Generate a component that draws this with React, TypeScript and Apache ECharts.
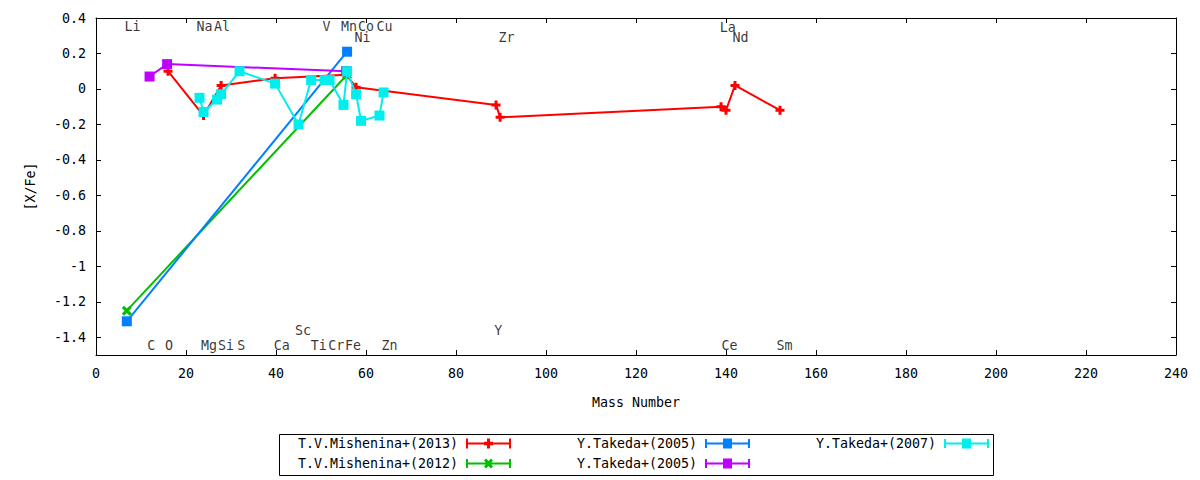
import React, { useEffect, useRef } from "react";
import * as echarts from "echarts";

const FONT = "DejaVu Sans Mono";
const FS = 13.3;

// Series data: [mass number, [X/Fe]]
const MISHENINA_2013: number[][] = [
  [16, 0.1], [23.9, -0.15], [27.8, 0.02], [39.8, 0.06], [55.6, 0.08], [57.8, 0.01],
  [88.9, -0.09], [89.8, -0.16], [138.9, -0.1], [140, -0.12], [142, 0.02], [152, -0.12],
];
const MISHENINA_2012: number[][] = [[6.85, -1.25], [55.8, 0.08]];
const TAKEDA_2005A: number[][] = [[6.85, -1.31], [55.8, 0.21]];
const TAKEDA_2005B: number[][] = [[11.9, 0.07], [15.8, 0.14], [55.6, 0.1]];
const TAKEDA_2007: number[][] = [
  [23, -0.05], [23.9, -0.13], [26.9, -0.06], [27.8, -0.03], [31.9, 0.1], [39.8, 0.03],
  [45, -0.2], [47.8, 0.05], [50.8, 0.05], [51.9, 0.05], [55, -0.09], [55.8, 0.1],
  [57.8, -0.03], [58.9, -0.18], [63, -0.15], [63.9, -0.02],
];

const SERIES_NAMES = [
  "T.V.Mishenina+(2013)",
  "T.V.Mishenina+(2012)",
  "Y.Takeda+(2005)",
  "Y.Takeda+(2005) b",
  "Y.Takeda+(2007)",
];
const SERIES_COLORS = ["#ff0000", "#00c000", "#0080ff", "#c000ff", "#00eeee"];

// Element labels
const ELEMENT_NAMES = [
  "Li", "Na", "Al", "V", "Mn", "Co", "Cu", "Ni", "Zr", "La", "Nd",
  "C", "O", "Mg", "Si", "S", "Ca", "Ti", "Cr", "Fe", "Zn", "Ce", "Sm", "Sc", "Y",
];
const ELEMENT_X = [
  8.1, 24.1, 28.0, 51.2, 56.2, 60.0, 64.1, 59.2, 91.2, 140.4, 143.2,
  12.3, 16.2, 25.1, 28.9, 32.3, 41.3, 49.5, 53.4, 57.1, 65.2, 140.8, 153.0, 46.0, 89.4,
];
const ELEMENT_Y = [
  0.352, 0.352, 0.352, 0.352, 0.352, 0.352, 0.352, 0.29, 0.29, 0.347, 0.29,
  -1.446, -1.446, -1.446, -1.446, -1.446, -1.446, -1.446, -1.446, -1.446, -1.446, -1.446, -1.446, -1.361, -1.361,
];

const Y_TICKS = [-1.4, -1.2, -1, -0.8, -0.6, -0.4, -0.2, 0, 0.2, 0.4];

const CAPS_LINE = "M0,0.5h2v9h-2z M0,4h45v2h-45z M43,0.5h2v9h-2z";
const ICON_PLUS = "path://" + CAPS_LINE + " M21,0.5h3v9h-3z M18,3.5h9v3h-9z";
const ICON_CROSS =
  "path://" + CAPS_LINE + " M0,0h0.01v0.01z M45,10h-0.01v-0.01z" +
  " M18,2L20,0L22.5,2.5L25,0L27,2L24.5,5L27,8L25,10L22.5,7.5L20,10L18,8L20.5,5Z";
const ICON_SQUARE = "path://" + CAPS_LINE + " M18,0h9v10h-9z";
const LEGEND_ICONS = [ICON_PLUS, ICON_CROSS, ICON_SQUARE, ICON_SQUARE, ICON_SQUARE];

const SYM_PLUS = "path://M3,0h3v3h3v3h-3v3h-3v-3h-3v-3h3z";
const SYM_CROSS =
  "path://M0,2L2,0L4.5,2.5L7,0L9,2L6.5,4.5L9,7L7,9L4.5,6.5L2,9L0,7L2.5,4.5Z";
const SERIES_SYMBOLS = [SYM_PLUS, SYM_CROSS, "rect", "rect", "rect"];
const SERIES_SYMBOL_SIZES = [9, 10, 10, 10, 10];

const LEGEND_RIGHT = [689, 689, 450, 450, 211];
const LEGEND_TOP = [437, 457, 437, 457, 437];

export default function App() {
  const ref = useRef<HTMLDivElement>(null);

  useEffect(() => {
    if (!ref.current) return;
    const chart = echarts.init(ref.current, null, { renderer: "svg" });
    const datasets = [MISHENINA_2013, MISHENINA_2012, TAKEDA_2005A, TAKEDA_2005B, TAKEDA_2007];

    const axisLine = { show: true, onZero: false, lineStyle: { color: "#000", width: 1 } };
    const tick = { show: true, inside: true, length: 5, lineStyle: { color: "#000", width: 1 } };
    const labelStyle = { fontFamily: FONT, fontSize: FS, color: "#000" };

    const lineSeries = datasets.map((d, i) => ({
      name: SERIES_NAMES[i],
      type: "line",
      data: d,
      xAxisIndex: 0,
      yAxisIndex: 0,
      symbol: SERIES_SYMBOLS[i],
      symbolSize: SERIES_SYMBOL_SIZES[i],
      showSymbol: true,
      showAllSymbol: true,
      color: SERIES_COLORS[i],
      lineStyle: { color: SERIES_COLORS[i], width: 2 },
      itemStyle: { color: SERIES_COLORS[i], borderWidth: 0 },
      emphasis: { disabled: true },
      z: 3 + i,
    }));

    const labelSeries = {
      name: "elements",
      type: "scatter",
      silent: true,
      symbolSize: 1,
      itemStyle: { color: "rgba(0,0,0,0)" },
      data: ELEMENT_NAMES.map((n, i) => ({ name: n, value: [ELEMENT_X[i], ELEMENT_Y[i]] })),
      label: {
        show: true,
        position: "inside",
        formatter: "{b}",
        fontFamily: FONT,
        fontSize: FS,
        color: "#000",
      },
      z: 2,
    };

    const legends = SERIES_NAMES.map((n, i) => ({
      data: [{ name: n, icon: LEGEND_ICONS[i] }],
      right: LEGEND_RIGHT[i],
      top: LEGEND_TOP[i],
      align: "right",
      orient: "horizontal",
      padding: 0,
      itemWidth: 45,
      itemHeight: 10,
      symbolKeepAspect: false,
      selectedMode: false,
      formatter: (name: string) => name.replace(/ b$/, ""),
      textStyle: { fontFamily: FONT, fontSize: FS, color: "#000", padding: [0, 3, 0, 0] },
    }));

    chart.setOption({
      animation: false,
      backgroundColor: "#fff",
      grid: { left: 96, top: 18, width: 1080, height: 337, containLabel: false },
      legend: legends,
      xAxis: [
        {
          type: "value",
          position: "bottom",
          min: 0,
          max: 240,
          interval: 20,
          name: "Mass Number",
          nameLocation: "middle",
          nameGap: 41,
          nameTextStyle: { fontFamily: FONT, fontSize: FS, color: "#000" },
          axisLine,
          axisTick: tick,
          axisLabel: { ...labelStyle, margin: 12 },
          splitLine: { show: false },
        },
        {
          type: "value",
          position: "top",
          min: 0,
          max: 240,
          interval: 20,
          axisLine,
          axisTick: tick,
          axisLabel: { show: false },
          splitLine: { show: false },
        },
      ],
      yAxis: [
        {
          type: "value",
          position: "left",
          min: -1.5,
          max: 0.4,
          name: "[X/Fe]",
          nameLocation: "middle",
          nameGap: 59,
          nameRotate: 90,
          nameTextStyle: { fontFamily: FONT, fontSize: FS, color: "#000" },
          axisLine,
          axisTick: { ...tick, customValues: Y_TICKS },
          axisLabel: {
            ...labelStyle,
            margin: 10,
            customValues: Y_TICKS,
            formatter: (v: number) => String(Math.round(v * 10) / 10),
          },
          splitLine: { show: false },
        },
        {
          type: "value",
          position: "right",
          min: -1.5,
          max: 0.4,
          axisLine,
          axisTick: { ...tick, customValues: Y_TICKS },
          axisLabel: { show: false, customValues: Y_TICKS },
          splitLine: { show: false },
        },
      ],
      graphic: [
        {
          type: "rect",
          shape: { x: 279.5, y: 434.5, width: 714, height: 41 },
          style: { fill: "none", stroke: "#000", lineWidth: 1 },
          silent: true,
        },
      ],
      series: [labelSeries, ...lineSeries],
    });

    return () => chart.dispose();
  }, []);

  return (
    <div
      ref={ref}
      style={{ position: "fixed", left: 0, top: 0, width: 1200, height: 480, background: "#fff" }}
    />
  );
}
